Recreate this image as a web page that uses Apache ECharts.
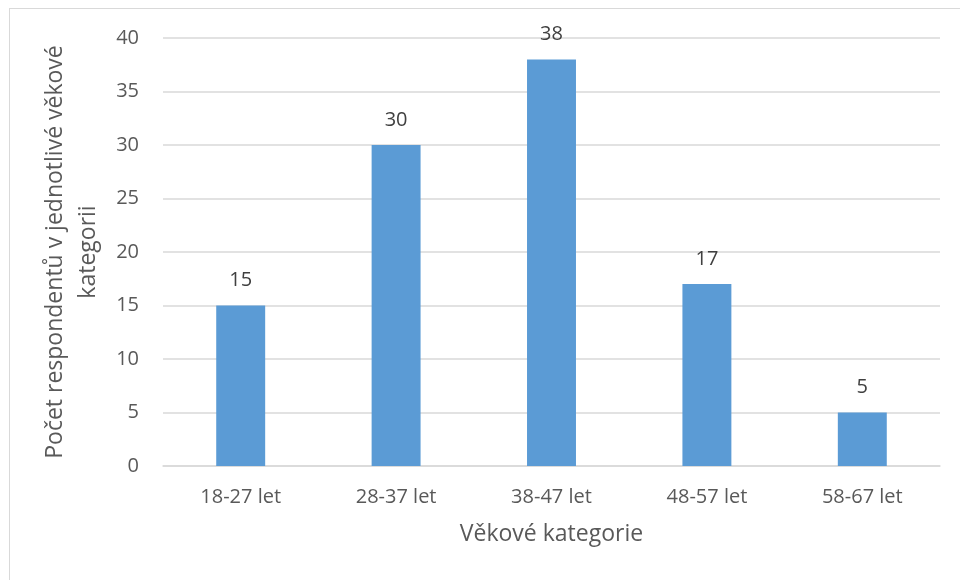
<!DOCTYPE html>
<html><head><meta charset="utf-8">
<script src="https://cdn.jsdelivr.net/npm/echarts@6/dist/echarts.min.js"></script>
<style>html,body{margin:0;padding:0;background:#fff}#c{width:960px;height:580px}
#frame{position:absolute;left:9px;top:8px;width:951px;height:572px;border-left:1.5px solid #d9d9d9;border-top:1.5px solid #d9d9d9;box-sizing:border-box;pointer-events:none}</style>
</head><body><div id="c"></div><div id="frame"></div>
<script>
const categories = ['18-27 let','28-37 let','38-47 let','48-57 let','58-67 let'];
const values = [15, 30, 38, 17, 5];
const xTitle = 'Věkové kategorie';
const yTitle = 'Počet respondentů v jednotlivé věkové\nkategorii';
const font = 'Open Sans';
const chart = echarts.init(document.getElementById('c'));
chart.setOption({
  animation:false,
  textStyle:{fontFamily:font},
  grid:{left:163,right:20,top:38,bottom:114},
  xAxis:{type:'category',data:categories,
    axisLine:{lineStyle:{color:'#d9d9d9',width:1.5}},axisTick:{show:false},
    axisLabel:{color:'#595959',fontSize:20,margin:21,fontFamily:font},
    name:xTitle,nameLocation:'middle',nameGap:57,
    nameTextStyle:{color:'#595959',fontSize:23,fontFamily:font}},
  yAxis:{type:'value',min:0,max:40,interval:5,
    axisLine:{show:false},axisTick:{show:false},
    splitLine:{lineStyle:{color:'#d9d9d9',width:1.5}},
    axisLabel:{color:'#595959',fontSize:20,margin:24,fontFamily:font},
    name:yTitle,nameLocation:'middle',nameGap:54,nameRotate:90,
    nameTextStyle:{color:'#595959',fontSize:23,fontFamily:font,lineHeight:33,align:'center'}},
  series:[{type:'bar',data:values,barWidth:'31.5%',
    itemStyle:{color:'#5b9bd5'},
    label:{show:true,position:'top',distance:15,color:'#404040',fontSize:20,fontFamily:font}}]
});
</script></body></html>
